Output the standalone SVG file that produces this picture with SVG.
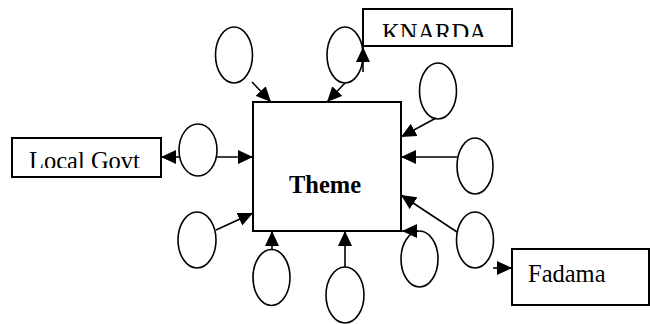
<svg xmlns="http://www.w3.org/2000/svg" width="650" height="324" viewBox="0 0 650 324">
  <style>
    .box { fill: #fff; stroke: #000; stroke-width: 2; }
    .oval { fill: #fff; stroke: #000; stroke-width: 1.6; }
    .link { fill: none; stroke: #000; stroke-width: 1.6; marker-end: url(#head); }
    .label { font-family: "Liberation Serif", "Times New Roman", serif; font-size: 24.5px; fill: #000; }
    .title { font-weight: bold; }
  </style>
  <defs>
    <marker id="head" markerUnits="userSpaceOnUse" markerWidth="16" markerHeight="14" refX="15" refY="7" orient="auto">
      <path d="M0,0 L15,7 L0,14 Z" fill="#000"/>
    </marker>
    <clipPath id="clip-knarda"><rect x="364" y="10" width="147" height="27"/></clipPath>
    <clipPath id="clip-local"><rect x="13" y="139" width="147" height="29"/></clipPath>
  </defs>

  <rect width="650" height="324" fill="#fff"/>

  <!-- central theme -->
  <g id="theme">
    <rect class="box" x="253" y="102" width="148" height="129"/>
    <text class="label title" x="325" y="193" text-anchor="middle">Theme</text>
  </g>

  <!-- agencies -->
  <g id="knarda">
    <rect class="box" x="363" y="9" width="149" height="37"/>
    <text class="label" x="382" y="41" clip-path="url(#clip-knarda)">KNARDA</text>
  </g>
  <g id="local-govt">
    <rect class="box" x="12" y="138" width="149" height="39"/>
    <text class="label" x="29" y="169" clip-path="url(#clip-local)">Local Govt</text>
  </g>
  <g id="fadama">
    <rect class="box" x="512" y="249" width="137" height="56"/>
    <text class="label" x="528" y="282">Fadama</text>
  </g>

  <!-- surrounding ovals -->
  <g id="oval-1"><ellipse class="oval" cx="234" cy="55" rx="18.5" ry="28"/></g>
  <g id="oval-2"><ellipse class="oval" cx="345" cy="55" rx="18" ry="28"/></g>
  <g id="oval-3"><ellipse class="oval" cx="438" cy="91" rx="18.5" ry="28"/></g>
  <g id="oval-4"><ellipse class="oval" cx="475" cy="166" rx="18" ry="28"/></g>
  <g id="oval-5"><ellipse class="oval" cx="475" cy="240" rx="18.5" ry="28"/></g>
  <g id="oval-6"><ellipse class="oval" cx="419.5" cy="259" rx="18.5" ry="28"/></g>
  <g id="oval-7"><ellipse class="oval" cx="345" cy="295" rx="19" ry="28"/></g>
  <g id="oval-8"><ellipse class="oval" cx="271.5" cy="277.5" rx="18.5" ry="28"/></g>
  <g id="oval-9"><ellipse class="oval" cx="197" cy="240" rx="19" ry="28"/></g>
  <g id="oval-10"><ellipse class="oval" cx="198" cy="150" rx="19" ry="26"/></g>

  <!-- connectors -->
  <g id="connectors">
    <line class="link" x1="252" y1="82" x2="271" y2="102"/>
    <line class="link" x1="345" y1="83" x2="327" y2="102"/>
    <line class="link" x1="363" y1="72" x2="363" y2="47"/>
    <line class="link" x1="436" y1="118" x2="401" y2="137"/>
    <line class="link" x1="457" y1="157" x2="401" y2="157"/>
    <line class="link" x1="457" y1="232" x2="401" y2="195"/>
    <line class="link" x1="418" y1="231" x2="402" y2="231"/>
    <line class="link" x1="345" y1="267" x2="345" y2="231"/>
    <line class="link" x1="272" y1="249" x2="272" y2="231"/>
    <line class="link" x1="216" y1="230" x2="253" y2="213"/>
    <line class="link" x1="217" y1="157" x2="253" y2="157"/>
    <line class="link" x1="179" y1="157" x2="161" y2="157"/>
    <line class="link" x1="493" y1="268" x2="512" y2="268"/>
  </g>
</svg>
